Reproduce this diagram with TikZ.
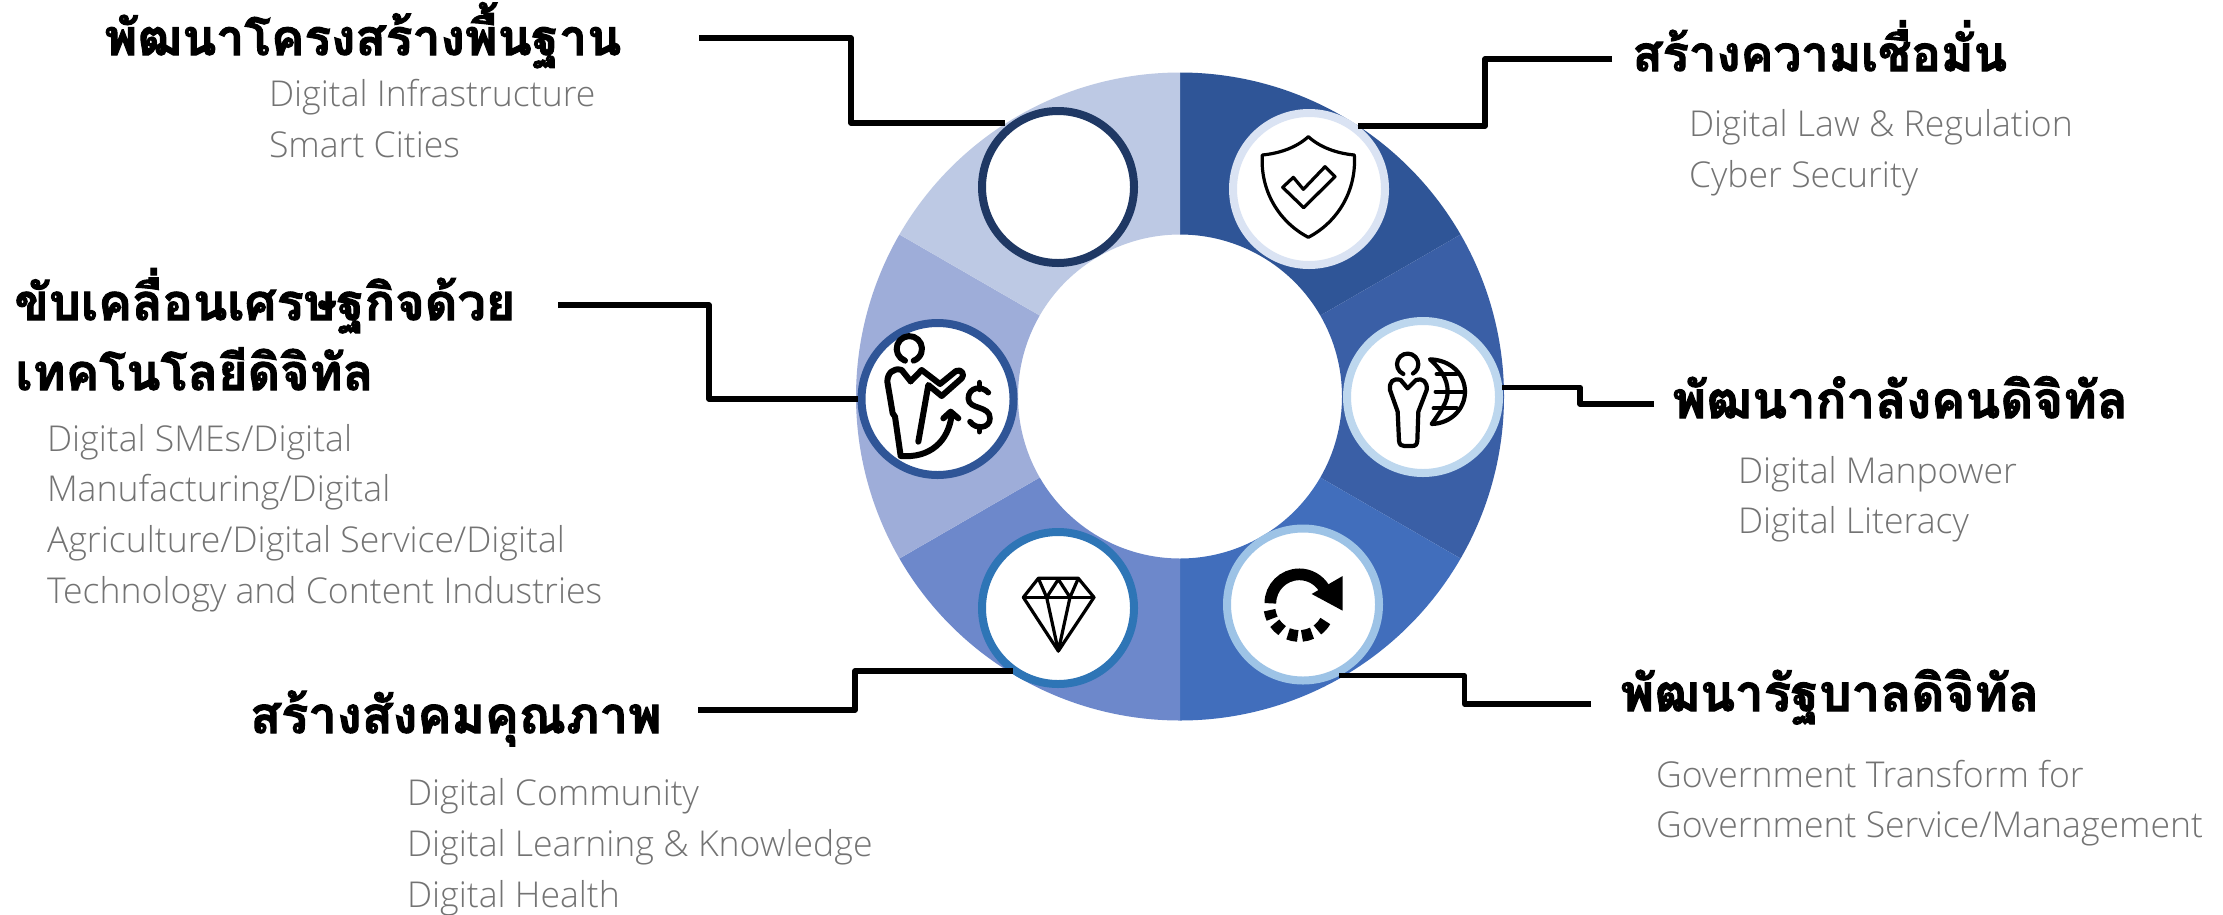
\documentclass[tikz,border=0pt]{standalone}
\usepackage{fontspec}
\setmainfont{Open Sans}
\newfontfamily\thaihead[Script=Thai,BoldFeatures={FakeBold=2}]{Loma}
\newfontfamily\sublight{Open Sans Light}
\definecolor{subgray}{HTML}{737373}
\definecolor{s1}{HTML}{2F5597}
\definecolor{s2}{HTML}{3A5FA6}
\definecolor{s3}{HTML}{416EBC}
\definecolor{s4}{HTML}{6D88CB}
\definecolor{s5}{HTML}{9EADD9}
\definecolor{s6}{HTML}{BDC9E4}
\definecolor{r1}{HTML}{1F3864}
\definecolor{r2}{HTML}{DAE3F3}
\definecolor{r3}{HTML}{BDD7EE}
\definecolor{r4}{HTML}{9DC3E6}
\definecolor{r5}{HTML}{2E75B6}
\definecolor{r6}{HTML}{2F5597}
\tikzset{
  head/.style={anchor=base west,inner sep=0pt,outer sep=0pt,xshift=-2.5pt,font=\thaihead\bfseries\fontsize{#1}{50}\selectfont,text=black},
  sub/.style={anchor=base west,inner sep=0pt,outer sep=0pt,xshift=-2pt,font=\sublight\fontsize{35.6}{40}\selectfont,text=subgray},
  ring/.style={circle,fill=white,line width=8pt,minimum size=152pt,inner sep=0pt,draw=#1},
  conn/.style={line width=5.4pt,line join=round,draw=black},
  icon/.style={line width=#1,line join=round,line cap=round,draw=black}
}
\newcommand{\sector}[3]{\fill[#3] (#1:324) arc[start angle=#1,end angle=#2,radius=324] -- (#2:162) arc[start angle=#2,end angle=#1,radius=162] -- cycle;}
\begin{document}
\begin{tikzpicture}[x=1pt,y=-1pt]
\useasboundingbox (0,0) rectangle (2223,914);
\fill[white] (0,0) rectangle (2223,914);
\begin{scope}[shift={(1180,396.5)}]
\sector{-90}{-30}{s1}
\sector{-30}{30}{s2}
\sector{30}{90}{s3}
\sector{90}{150}{s4}
\sector{150}{210}{s5}
\sector{210}{270}{s6}
\end{scope}
% rings
\node[ring=r1] (c1) at (1058,187) {};
\node[ring=r2] (c2) at (1309,189) {};
\node[ring=r3] (c3) at (1423,397) {};
\node[ring=r4] (c4) at (1303,604.5) {};
\node[ring=r5] (c5) at (1058,608) {};
\node[ring=r6] (c6) at (937.5,399) {};
% connector free ends and bends
\coordinate (aS) at (699,38);   \coordinate (aM) at (851,80);
\coordinate (bS) at (1612,59);  \coordinate (bM) at (1485,90);
\coordinate (cS) at (1654,404); \coordinate (cM) at (1580,395);
\coordinate (dS) at (1591,704); \coordinate (dM) at (1464.5,690);
\coordinate (eS) at (698,710);  \coordinate (eM) at (855,690);
\coordinate (fS) at (558,305);  \coordinate (fM) at (709,350);
\draw[conn,shorten >=5pt] (aS) -| (aM) |- (c1.127);
\draw[conn] (bS) -| (bM) |- (c2.52);
\draw[conn] (cS) -| (cM) |- (c3.7);
\draw[conn] (dS) -| (dM) |- (c4.-63);
\draw[conn,shorten >=-4pt] (eS) -| (eM) |- (c5.-128);
\draw[conn] (fS) -| (fM) |- (c6.180);
% shield
\begin{scope}[shift={(1225,110)},x=.3333pt,y=-.3333pt]
\draw[icon=3.2pt] (250,80) .. controls (285,112) and (335,130) .. (388,135)
  .. controls (395,240) and (340,335) .. (250,382)
  .. controls (160,335) and (105,240) .. (112,135)
  .. controls (165,130) and (215,112) .. (250,80) -- cycle;
\draw[icon=3.2pt] (173,232) -- (205,202) -- (235,238) -- (300,170) -- (330,200) -- (236,293) -- cycle;
\end{scope}
% person and globe
\begin{scope}[shift={(1335,310)},x=.3333pt,y=-.3333pt]
\draw[icon=4.2pt] (205,192) arc[start angle=114,end angle=420,radius=32];
\draw[icon=4.2pt] (218,235) -- (197,210) .. controls (175,203) and (162,215) .. (165,240)
  -- (188,305) -- (192,392) .. controls (193,405) and (200,408) .. (208,408) -- (232,408)
  .. controls (242,408) and (246,403) .. (247,392) -- (250,305) -- (275,240)
  .. controls (278,215) and (262,203) .. (243,210) -- cycle;
\draw[icon=4.2pt] (285,148) .. controls (350,150) and (390,195) .. (390,245)
  .. controls (390,295) and (350,340) .. (290,342)
  .. controls (320,300) and (338,275) .. (338,245)
  .. controls (338,205) and (315,175) .. (285,148) -- cycle;
\draw[icon=4.2pt] (305,192) -- (365,192);
\draw[icon=4.2pt] (302,245) -- (390,245);
\draw[icon=4.2pt] (296,295) -- (365,295);
\end{scope}
% refresh arrow
\begin{scope}[shift={(1220,520)},x=.3333pt,y=-.3333pt]
\draw[line width=11.7pt,draw=black] (238,250) ++(180:87) arc[start angle=180,end angle=328,radius=87];
\fill (368,168) -- (368,272) -- (275,222) -- cycle;
\foreach \sa/\ea in {172/155,145/125,112/93,85/65,53/30}{
  \draw[line width=11.7pt,draw=black] (238,258) ++(\sa:90) arc[start angle=\sa,end angle=\ea,radius=90];
}
\end{scope}
% diamond
\begin{scope}[shift={(975,525)},x=.3333pt,y=-.3333pt]
\draw[icon=3.2pt] (190,160) -- (310,160) -- (357,217) -- (250,378) -- (145,217) -- cycle;
\draw[icon=3.2pt] (145,217) -- (357,217);
\draw[icon=3.2pt] (190,160) -- (215,217) -- (250,163) -- (285,217) -- (310,160);
\draw[icon=3.2pt] (215,217) -- (250,378) -- (285,217);
\end{scope}
% person and dollar
\begin{scope}[shift={(850,310)},x=.3333pt,y=-.3333pt]
\draw[icon=6pt] (165,152) arc[start angle=110,end angle=430,radius=38];
\draw[icon=6pt] (182,214) -- (155,180) .. controls (130,172) and (112,190) .. (112,215)
  -- (128,310) -- (135,320) -- (152,438) .. controls (240,445) and (295,395) .. (305,315);
\draw[icon=6pt] (182,214) -- (215,180) -- (270,222) -- (318,183) .. controls (335,175) and (345,195) .. (335,205) -- (275,258) -- (235,225) -- (205,395);
\draw[icon=6pt] (280,325) -- (302,305) -- (325,325);
\draw[icon=5.6pt] (415,248) .. controls (395,225) and (355,232) .. (355,265) .. controls (355,300) and (420,285) .. (420,325) .. controls (420,355) and (378,360) .. (360,335);
\draw[icon=5.6pt] (388,218) -- (388,238);
\draw[icon=5.6pt] (388,350) -- (388,365);
\end{scope}
% texts
\node[head=49.8] (h1) at (107,55) {พัฒนาโครงสร้างพื้นฐาน};
\node[sub] (t1a) at (271,106) {Digital Infrastructure};
\node[sub] (t1b) at (271,157) {Smart Cities};
\node[head=49.2] (h2) at (1635,71) {สร้างความเชื่อมั่น};
\node[sub] (t2a) at (1691,136) {Digital Law \& Regulation};
\node[sub] (t2b) at (1691,187) {Cyber Security};
\node[head=51] (h3) at (1675,418) {พัฒนากำลังคนดิจิทัล};
\node[sub] (t3a) at (1740,483) {Digital Manpower};
\node[sub] (t3b) at (1740,533) {Digital Literacy};
\node[head=51] (h4) at (1623,711) {พัฒนารัฐบาลดิจิทัล};
\node[sub] (t4a) at (1658,787) {Government Transform for};
\node[sub] (t4b) at (1658,837) {Government Service/Management};
\node[head=50.8] (h5) at (252.6,733) {สร้างสังคมคุณภาพ};
\node[sub] (t5a) at (409,805) {Digital Community};
\node[sub] (t5b) at (409,856) {Digital Learning \& Knowledge};
\node[sub] (t5c) at (409,907) {Digital Health};
\node[head=50.4] (h6a) at (17,320) {ขับเคลื่อนเศรษฐกิจด้วย};
\node[head=50.2] (h6b) at (18,390) {เทคโนโลยีดิจิทัล};
\node[sub] (t6a) at (49,451) {Digital SMEs/Digital};
\node[sub] (t6b) at (49,501) {Manufacturing/Digital};
\node[sub] (t6c) at (49,552) {Agriculture/Digital Service/Digital};
\node[sub] (t6d) at (49,603) {Technology and Content Industries};
\end{tikzpicture}
\end{document}
